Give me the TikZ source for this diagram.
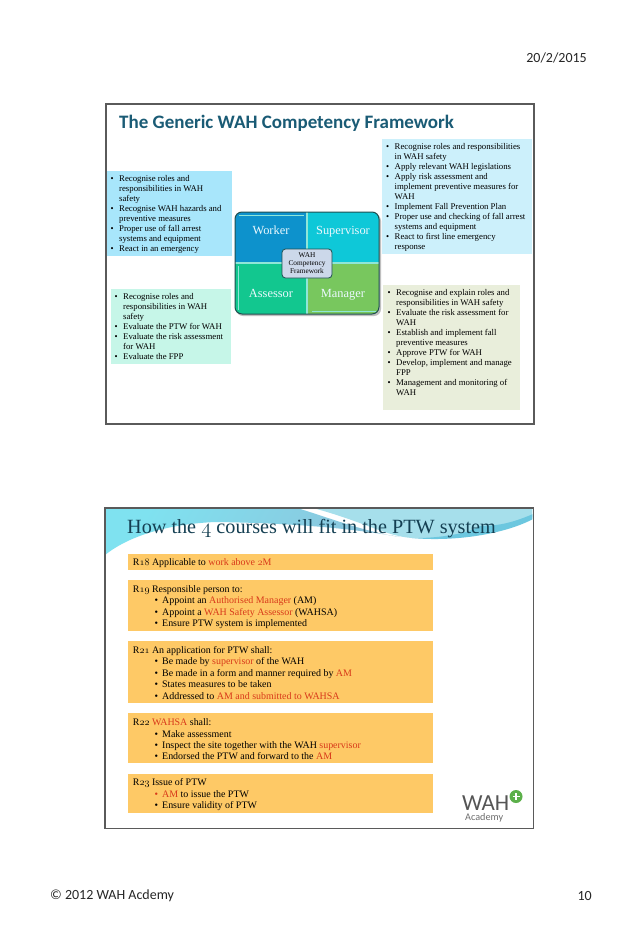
\documentclass[tikz,border=0pt]{standalone}
\usepackage{fontspec}
\setmainfont{Liberation Serif}
\newfontfamily\carl{Carlito}
\usetikzlibrary{calc}
\definecolor{framegray}{HTML}{5A5A5A}
\definecolor{titleteal}{HTML}{1A5B75}
\definecolor{titledark}{HTML}{143F52}
\definecolor{boxa}{HTML}{A8E6FB}
\definecolor{boxb}{HTML}{C6F6E8}
\definecolor{boxc}{HTML}{CCF0FB}
\definecolor{boxd}{HTML}{E9EEDB}
\definecolor{orangebox}{HTML}{FEC966}
\definecolor{redtxt}{HTML}{D8391A}
\definecolor{qw}{HTML}{0D92CC}
\definecolor{qs}{HTML}{0EC8D8}
\definecolor{qa}{HTML}{12C78F}
\definecolor{qm}{HTML}{78C75E}
\definecolor{qedge}{HTML}{1F4F50}
\definecolor{qline}{HTML}{8FE6D8}
\definecolor{centerfill}{HTML}{CCD8EA}
\definecolor{logogreen}{HTML}{5CB04A}
\definecolor{logogray}{HTML}{555555}
\definecolor{wavea}{HTML}{7FE2F0}
\definecolor{waveb}{HTML}{8CC4DC}
\definecolor{wavec}{HTML}{A6DFEB}
\definecolor{waved}{HTML}{6CC7DF}
\newcommand\bl{\makebox[8.5pt][l]{•}}
\newcommand\ct{\hspace*{8.5pt}}
\newcommand\ob{\hspace*{21.8pt}\makebox[7.5pt][l]{•}}
\newcommand\rd[1]{\textcolor{redtxt}{#1}}
\newcommand\osn[1]{{\usefont{OML}{lmm}{m}{it}#1}}
\tikzset{
  slide/.style={draw=framegray,line width=1.5pt,fill=white},
  colbox/.style={inner sep=0pt,anchor=north west},
  bodytext/.style={inner sep=0pt,anchor=north west,align=left,text=black,font=\fontsize{8.75}{10}\selectfont},
  ortext/.style={inner sep=0pt,anchor=north west,align=left,text=black,font=\fontsize{9.95}{11.45}\selectfont},
  orbox/.style={colbox,fill=orangebox,minimum width=305pt},
  quad/.style={inner sep=0pt,anchor=north west,minimum width=71pt,minimum height=51pt},
  quadlabel/.style={inner sep=0pt,text height=8.5pt,text depth=2.5pt,text=white!92!cyan,font=\fontsize{12.4}{14}\selectfont},
  foot/.style={inner sep=0pt,font=\carl\fontsize{14}{16}\selectfont,text=black!85}
}
\begin{document}
\begin{tikzpicture}[x=1pt,y=-1pt]
\useasboundingbox[fill=white] (0,0) rectangle (638,932);
\node[foot,anchor=east] (date) at (587,58) {20/2/2015};
\node[foot,anchor=west] (copy) at (50,896) {© 2012 WAH Acdemy};
\node[foot,anchor=east] (page) at (592,896) {10};
% ---- slide 1
\node[slide,anchor=north west,inner sep=0pt,minimum width=428pt,minimum height=320pt] (s1) at (105,103) {};
\node[inner sep=0pt,anchor=west,font=\carl\bfseries\fontsize{19}{21}\selectfont,text=titleteal] (t1) at (119,123) {The Generic WAH Competency Framework};
\node[colbox,fill=boxa,minimum width=125pt,minimum height=85pt] (ba) at (107,171) {};
\node[bodytext] (ta) at (110.5,175) {\bl Recognise roles and\\\ct responsibilities in WAH\\\ct safety\\\bl Recognise WAH hazards and\\\ct preventive measures\\\bl Proper use of fall arrest\\\ct systems and equipment\\\bl React in an emergency};
\node[colbox,fill=boxb,minimum width=120pt,minimum height=75pt] (bb) at (111,289) {};
\node[bodytext] (tb) at (114.5,293) {\bl Recognise roles and\\\ct responsibilities in WAH\\\ct safety\\\bl Evaluate the PTW for WAH\\\bl Evaluate the risk assessment\\\ct for WAH\\\bl Evaluate the FPP};
\node[colbox,fill=boxc,minimum width=150pt,minimum height=115pt] (bc) at (382,139) {};
\node[bodytext] (tc) at (386,143.5) {\bl Recognise roles and responsibilities\\\ct in WAH safety\\\bl Apply relevant WAH legislations\\\bl Apply risk assessment and\\\ct implement preventive measures for\\\ct WAH\\\bl Implement Fall Prevention Plan\\\bl Proper use and checking of fall arrest\\\ct systems and equipment\\\bl React to first line emergency\\\ct response};
\node[colbox,fill=boxd,minimum width=137pt,minimum height=125pt] (bd) at (383,285) {};
\node[bodytext] (td) at (387.5,289) {\bl Recognise and explain roles and\\\ct responsibilities in WAH safety\\\bl Evaluate the risk assessment for\\\ct WAH\\\bl Establish and implement fall\\\ct preventive measures\\\bl Approve PTW for WAH\\\bl Develop, implement and manage\\\ct FPP\\\bl Management and monitoring of\\\ct WAH};
% ---- matrix
\fill[black!25,rounded corners=7pt] (236,214) rectangle (381,316);
\begin{scope}
\clip[rounded corners=7pt] (235,212) rectangle (379,314);
\node[quad,fill=qw] (qw) at (235,212) {};
\node[quad,fill=qs] (qs) at (308,212) {};
\node[quad,fill=qa] (qa) at (235,263) {};
\node[quad,fill=qm] (qm) at (308,263) {};
\fill[qline] (306,212) rectangle (308,314);
\fill[qline] (235,262) rectangle (379,263.5);
\draw[qline,line width=.6pt] (239,215) -- (304,215);
\draw[qline,line width=.6pt] (238,266) -- (238,310);
\draw[qline,line width=.6pt] (312,311) -- (376,311);
\end{scope}
\draw[qedge,line width=1pt,rounded corners=7pt] (235,212) rectangle (379,314);
\node[quadlabel] (lw) at (271,231) {Worker};
\node[quadlabel] (ls) at (343,231) {Supervisor};
\node[quadlabel] (la) at (271,294) {Assessor};
\node[quadlabel] (lm) at (343,294) {Manager};
\node[draw=qedge,line width=.8pt,fill=centerfill,rounded corners=3.5pt,inner sep=0pt,minimum width=50pt,minimum height=29pt,align=center,text=black,font=\fontsize{7.3}{8}\selectfont] (cf) at (307,263.5) {WAH\\Competency\\Framework};
% ---- slide 2
\node[fill=white,anchor=north west,inner sep=0pt,minimum width=428pt,minimum height=320pt] (s2) at (105,508) {};
\begin{scope}
\clip (105.7,508.7) rectangle (532.3,827.3);
\shade[left color=wavea,right color=waveb,shading angle=60]
  (105,508) -- (297,508) .. controls (330,518) and (365,532) .. (400,537)
  .. controls (350,528) and (290,523) .. (215,522)
  .. controls (170,524) and (130,535) .. (105,555) -- cycle;
\fill[wavec] (313,508) -- (533,508) -- (533,517)
  .. controls (500,532) and (450,539) .. (412,538)
  .. controls (385,536) and (365,522) .. (313,508) -- cycle;
\fill[waved] (533,514) .. controls (510,524) and (495,526) .. (480,526)
  .. controls (470,533) and (440,538.5) .. (412,538)
  .. controls (455,542) and (505,534) .. (533,519) -- cycle;
\end{scope}
\draw[framegray,line width=1.5pt] (s2.north west) rectangle (s2.south east);
\node[inner sep=0pt,anchor=west,font=\fontsize{20.2}{22}\selectfont,text=titledark] (t2) at (127,528.5) {How the \osn{4} courses will fit in the PTW system};
\node[orbox,minimum height=16pt] (r18) at (128,554) {};
\node[ortext] (tr18) at (132.7,558.5) {R\osn{18} Applicable to \rd{work above \osn{2}M}};
\node[orbox,minimum height=51pt] (r19) at (128,580) {};
\node[ortext] (tr19) at (132.7,585) {R\osn{19} Responsible person to:\\\ob Appoint an \rd{Authorised Manager} (AM)\\\ob Appoint a \rd{WAH Safety Assessor} (WAHSA)\\\ob Ensure PTW system is implemented};
\node[orbox,minimum height=62pt] (r21) at (128,641) {};
\node[ortext] (tr21) at (132.7,646) {R\osn{21} An application for PTW shall:\\\ob Be made by \rd{supervisor} of the WAH\\\ob Be made in a form and manner required by \rd{AM}\\\ob States measures to be taken\\\ob Addressed to \rd{AM and submitted to WAHSA}};
\node[orbox,minimum height=50pt] (r22) at (128,713) {};
\node[ortext] (tr22) at (132.7,718.5) {R\osn{22} \rd{WAHSA} shall:\\\ob Make assessment\\\ob Inspect the site together with the WAH \rd{supervisor}\\\ob Endorsed the PTW and forward to the \rd{AM}};
\node[orbox,minimum height=39.5pt] (r23) at (128,773.5) {};
\node[ortext] (tr23) at (132.7,778.5) {R\osn{23} Issue of PTW\\\textcolor{redtxt}{\ob AM} to issue the PTW\\\ob Ensure validity of PTW};
% ---- logo
\node[inner sep=0pt,anchor=base west,font=\carl\fontsize{23}{24}\selectfont,text=logogray] (wah) at (462,810.5) {WAH};
\node[inner sep=0pt,anchor=base west,font=\carl\fontsize{10.2}{11}\selectfont,text=logogray!85] (acad) at (465,820.5) {Academy};
\node[circle,fill=logogreen,minimum size=13pt,inner sep=0pt] (plus) at (516,796.5) {};
\draw[white,line width=1.8pt] ($(plus.center)+(-3.5,0)$) -- ($(plus.center)+(3.5,0)$);
\draw[white,line width=1.8pt] ($(plus.center)+(0,-3.5)$) -- ($(plus.center)+(0,3.5)$);
\end{tikzpicture}
\end{document}
